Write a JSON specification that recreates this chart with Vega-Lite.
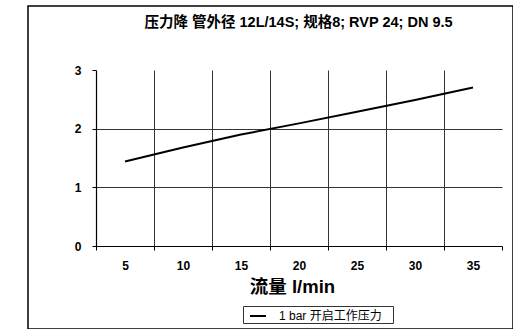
{
  "$schema": "https://vega.github.io/schema/vega-lite/v6.json",
  "width": 485,
  "height": 323,
  "autosize": {"type": "none"},
  "padding": {"left": 28, "top": 6, "right": 0, "bottom": 0},
  "background": "white",
  "title": {
    "text": "压力降  管外径 12L/14S; 规格8; RVP 24; DN 9.5",
    "font": "Liberation Sans, Noto Sans CJK SC, sans-serif",
    "fontSize": 14.5,
    "fontWeight": "bold",
    "color": "black",
    "anchor": "middle",
    "frame": "group",
    "dx": 28,
    "offset": -35,
    "baseline": "alphabetic"
  },
  "config": {
    "view": {"stroke": "black", "strokeWidth": 1.5},
    "font": "Liberation Sans, Noto Sans CJK SC, sans-serif"
  },
  "data": {
    "values": [
      {"flow": 5, "dp": 1.44, "series": "1 bar 开启工作压力"},
      {"flow": 10, "dp": 1.68, "series": "1 bar 开启工作压力"},
      {"flow": 15, "dp": 1.9, "series": "1 bar 开启工作压力"},
      {"flow": 20, "dp": 2.09, "series": "1 bar 开启工作压力"},
      {"flow": 25, "dp": 2.29, "series": "1 bar 开启工作压力"},
      {"flow": 30, "dp": 2.49, "series": "1 bar 开启工作压力"},
      {"flow": 35, "dp": 2.7, "series": "1 bar 开启工作压力"}
    ]
  },
  "resolve": {"axis": {"x": "independent"}},
  "layer": [
    {
      "mark": {"type": "line", "opacity": 0},
      "encoding": {
        "x": {
          "field": "flow",
          "type": "quantitative",
          "scale": {"domain": [2.5, 37.5], "range": [68, 474], "nice": false, "zero": false},
          "axis": {
            "orient": "top",
            "values": [7.5, 12.5, 17.5, 22.5, 27.5, 32.5],
            "labels": false,
            "ticks": false,
            "domain": false,
            "grid": true,
            "gridColor": "#333333",
            "gridWidth": 1,
            "title": null
          }
        },
        "y": {
          "field": "dp",
          "type": "quantitative",
          "scale": {"domain": [0, 3], "range": [240, 64], "nice": false, "zero": true},
          "axis": {
            "orient": "left",
            "offset": -68,
            "values": [0, 1, 2, 3],
            "format": "d",
            "labelFontSize": 12,
            "labelFontWeight": "bold",
            "labelColor": "black",
            "labelPadding": 11,
            "labelFlush": false,
            "domainColor": "black",
            "domainWidth": 1.2,
            "tickColor": "black",
            "tickSize": 4,
            "grid": true,
            "gridColor": "#333333",
            "gridWidth": 1,
            "gridOpacity": {"condition": {"test": "datum.value === 1 || datum.value === 2", "value": 1}, "value": 0},
            "title": null
          }
        }
      }
    },
    {
      "mark": {"type": "line", "strokeWidth": 2},
      "encoding": {
        "x": {
          "field": "flow",
          "type": "quantitative",
          "axis": {
            "orient": "bottom",
            "offset": -83,
            "values": [2.5, 5, 7.5, 10, 12.5, 15, 17.5, 20, 22.5, 25, 27.5, 30, 32.5, 35, 37.5],
            "labelExpr": "datum.value % 5 === 0 ? datum.label : ''",
            "labelFontSize": 12,
            "labelFontWeight": "bold",
            "labelColor": "black",
            "labelPadding": 10,
            "labelFlush": false,
            "labelOverlap": false,
            "domainColor": "black",
            "domainWidth": 1.2,
            "tickColor": "black",
            "tickSize": 4,
            "tickOpacity": {"condition": {"test": "datum.value % 5 === 0", "value": 0}, "value": 1},
            "grid": false,
            "title": "流量 l/min",
            "titleFontSize": 18.5,
            "titleFontWeight": "bold",
            "titleColor": "black",
            "titlePadding": 6,
            "titleX": 264
          }
        },
        "y": {
          "field": "dp",
          "type": "quantitative",
          "axis": {
            "orient": "left",
            "offset": -68,
            "values": [0, 1, 2, 3],
            "format": "d",
            "labelFontSize": 12,
            "labelFontWeight": "bold",
            "labelColor": "black",
            "labelPadding": 11,
            "labelFlush": false,
            "domainColor": "black",
            "domainWidth": 1.2,
            "tickColor": "black",
            "tickSize": 4,
            "grid": true,
            "gridColor": "#333333",
            "gridWidth": 1,
            "gridOpacity": {"condition": {"test": "datum.value === 1 || datum.value === 2", "value": 1}, "value": 0},
            "title": null
          }
        },
        "color": {
          "field": "series",
          "type": "nominal",
          "scale": {"range": ["black"]},
          "legend": {
            "orient": "none",
            "legendX": 215,
            "legendY": 300,
            "title": "\u00a0",
            "titleOrient": "right",
            "titlePadding": 10,
            "titleFontSize": 11,
            "direction": "horizontal",
            "strokeColor": "#333333",
            "fillColor": "white",
            "padding": 1,
            "symbolOffset": 5,
            "symbolType": "stroke",
            "symbolSize": 256,
            "symbolStrokeWidth": 2,
            "symbolStrokeColor": "black",
            "labelOffset": 12,
            "labelFontSize": 12,
            "labelColor": "black"
          }
        }
      }
    }
  ]
}
